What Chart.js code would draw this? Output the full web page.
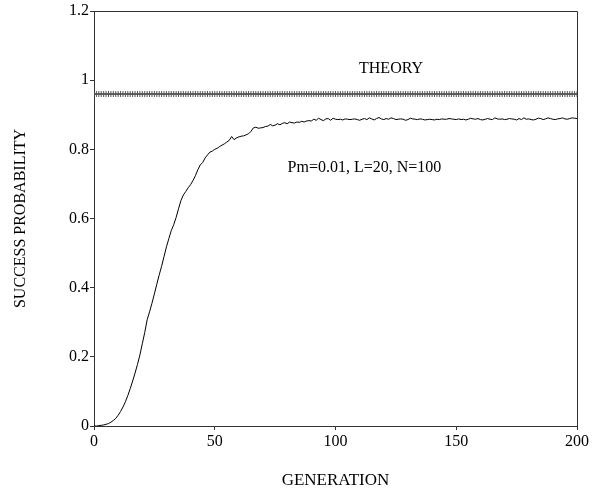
<!DOCTYPE html>
<html>
<head>
<meta charset="utf-8">
<script src="https://cdn.jsdelivr.net/npm/chart.js@4"></script>
<style>
  html, body { margin: 0; padding: 0; background: #fff; }
  #wrap { width: 602px; height: 491px; }
</style>
</head>
<body>
<div id="wrap"><canvas id="myChart" width="602" height="491"></canvas></div>
<script>
// Data.
const xTicks = [0, 50, 100, 150, 200];
const yTicks = [0, 0.2, 0.4, 0.6, 0.8, 1, 1.2];
const theoryValue = 0.96;
const simulated = [
  0, 0, 0.001, 0.002, 0.003, 0.005, 0.007, 0.011, 0.016, 0.022,
  0.031, 0.042, 0.055, 0.07, 0.088, 0.108, 0.13, 0.153, 0.178, 0.205,
  0.238, 0.27, 0.307, 0.33, 0.355, 0.382, 0.41, 0.437, 0.462, 0.49,
  0.518, 0.542, 0.565, 0.582, 0.603, 0.628, 0.652, 0.668, 0.678, 0.689,
  0.698, 0.71, 0.724, 0.741, 0.755, 0.762, 0.775, 0.784, 0.792, 0.795,
  0.8, 0.803, 0.808, 0.812, 0.816, 0.821, 0.826, 0.837, 0.828, 0.833,
  0.836, 0.838, 0.839, 0.842, 0.845, 0.852, 0.862, 0.864, 0.861, 0.862,
  0.863, 0.866, 0.867, 0.872, 0.868, 0.87, 0.874, 0.871, 0.875, 0.877,
  0.874, 0.879, 0.877, 0.876, 0.879, 0.878, 0.881, 0.879, 0.882, 0.883,
  0.882, 0.887, 0.884, 0.89, 0.886, 0.883, 0.888, 0.889, 0.884, 0.89,
  0.887,
  0.886, 0.887, 0.885, 0.888, 0.887, 0.886, 0.887, 0.888, 0.886, 0.884,
  0.887, 0.889, 0.886, 0.891, 0.888, 0.885, 0.889, 0.892, 0.888, 0.886,
  0.889, 0.887, 0.891, 0.889, 0.886, 0.887, 0.888, 0.887, 0.884, 0.886,
  0.89, 0.888, 0.887, 0.886, 0.888, 0.887, 0.885, 0.886, 0.887, 0.886,
  0.885, 0.887, 0.886, 0.888, 0.887, 0.887, 0.889, 0.888, 0.887, 0.886,
  0.888, 0.886, 0.887, 0.885, 0.887, 0.89, 0.888, 0.887, 0.889, 0.886,
  0.885, 0.887, 0.889, 0.887, 0.886, 0.891, 0.888, 0.887, 0.888, 0.886,
  0.887, 0.889, 0.888, 0.887, 0.885, 0.889, 0.886, 0.891, 0.887, 0.888,
  0.886, 0.885, 0.887, 0.89, 0.889, 0.886, 0.888, 0.891, 0.889, 0.887,
  0.886, 0.888, 0.889, 0.891, 0.888, 0.887, 0.889, 0.891, 0.89, 0.889
];
const generations = simulated.map((v, i) => i);

const serif = '"Liberation Serif", "DejaVu Serif", serif';

// frame on top/right + text notes
const extras = {
  id: 'extras',
  afterDraw(chart) {
    const { ctx, chartArea: a, scales } = chart;
    ctx.save();
    ctx.strokeStyle = '#333';
    ctx.lineWidth = 1;
    ctx.beginPath();
    ctx.moveTo(a.left, a.top + 0.5);
    ctx.lineTo(a.right + 0.5, a.top + 0.5);
    ctx.lineTo(a.right + 0.5, a.bottom);
    ctx.stroke();
    ctx.fillStyle = '#000';
    ctx.font = '16px ' + serif;
    ctx.textAlign = 'center';
    ctx.textBaseline = 'middle';
    ctx.fillText('THEORY', scales.x.getPixelForValue(123), scales.y.getPixelForValue(1.032));
    ctx.fillText('Pm=0.01, L=20, N=100', scales.x.getPixelForValue(112), scales.y.getPixelForValue(0.746));
    ctx.restore();
  }
};

new Chart(document.getElementById('myChart'), {
  type: 'line',
  data: {
    datasets: [{
      label: 'Theory',
      data: generations.map(g => ({ x: g, y: theoryValue })),
      borderColor: '#222',
      borderWidth: 1,
      pointStyle: 'cross',
      pointRadius: 3,
      pointBorderColor: '#555',
      pointBorderWidth: 1
    }, {
      label: 'Simulation',
      data: generations.map((g, i) => ({ x: g, y: simulated[i] })),
      borderColor: '#000',
      borderWidth: 1,
      pointRadius: 0,
      tension: 0
    }]
  },
  plugins: [extras],
  options: {
    responsive: false,
    animation: false,
    layout: { padding: { left: 0, top: 11, right: 25, bottom: 0 } },
    plugins: { legend: { display: false }, tooltip: { enabled: false } },
    scales: {
      x: {
        type: 'linear',
        min: 0,
        max: 200,
        afterBuildTicks: s => { s.ticks = xTicks.map(v => ({ value: v })); },
        afterFit: s => { s.height = 65; },
        grid: { drawOnChartArea: false, tickLength: 4, color: '#333' },
        border: { color: '#333' },
        ticks: { color: '#000', font: { family: serif, size: 16 }, padding: 2, maxRotation: 0 },
        title: { display: true, text: 'GENERATION', color: '#000', font: { family: serif, size: 17 }, padding: { top: 0, bottom: 0 } }
      },
      y: {
        min: 0,
        max: 1.2,
        afterBuildTicks: s => { s.ticks = yTicks.map(v => ({ value: v })); },
        afterFit: s => { s.width = 94; },
        grid: { drawOnChartArea: false, tickLength: 4, color: '#333' },
        border: { color: '#333' },
        ticks: { color: '#000', font: { family: serif, size: 16 }, padding: 1, callback: v => String(+v.toFixed(1)) },
        title: { display: true, text: 'SUCCESS PROBABILITY', color: '#000', font: { family: serif, size: 16 }, padding: { top: 11, bottom: 0 } }
      }
    }
  }
});
</script>
</body>
</html>
